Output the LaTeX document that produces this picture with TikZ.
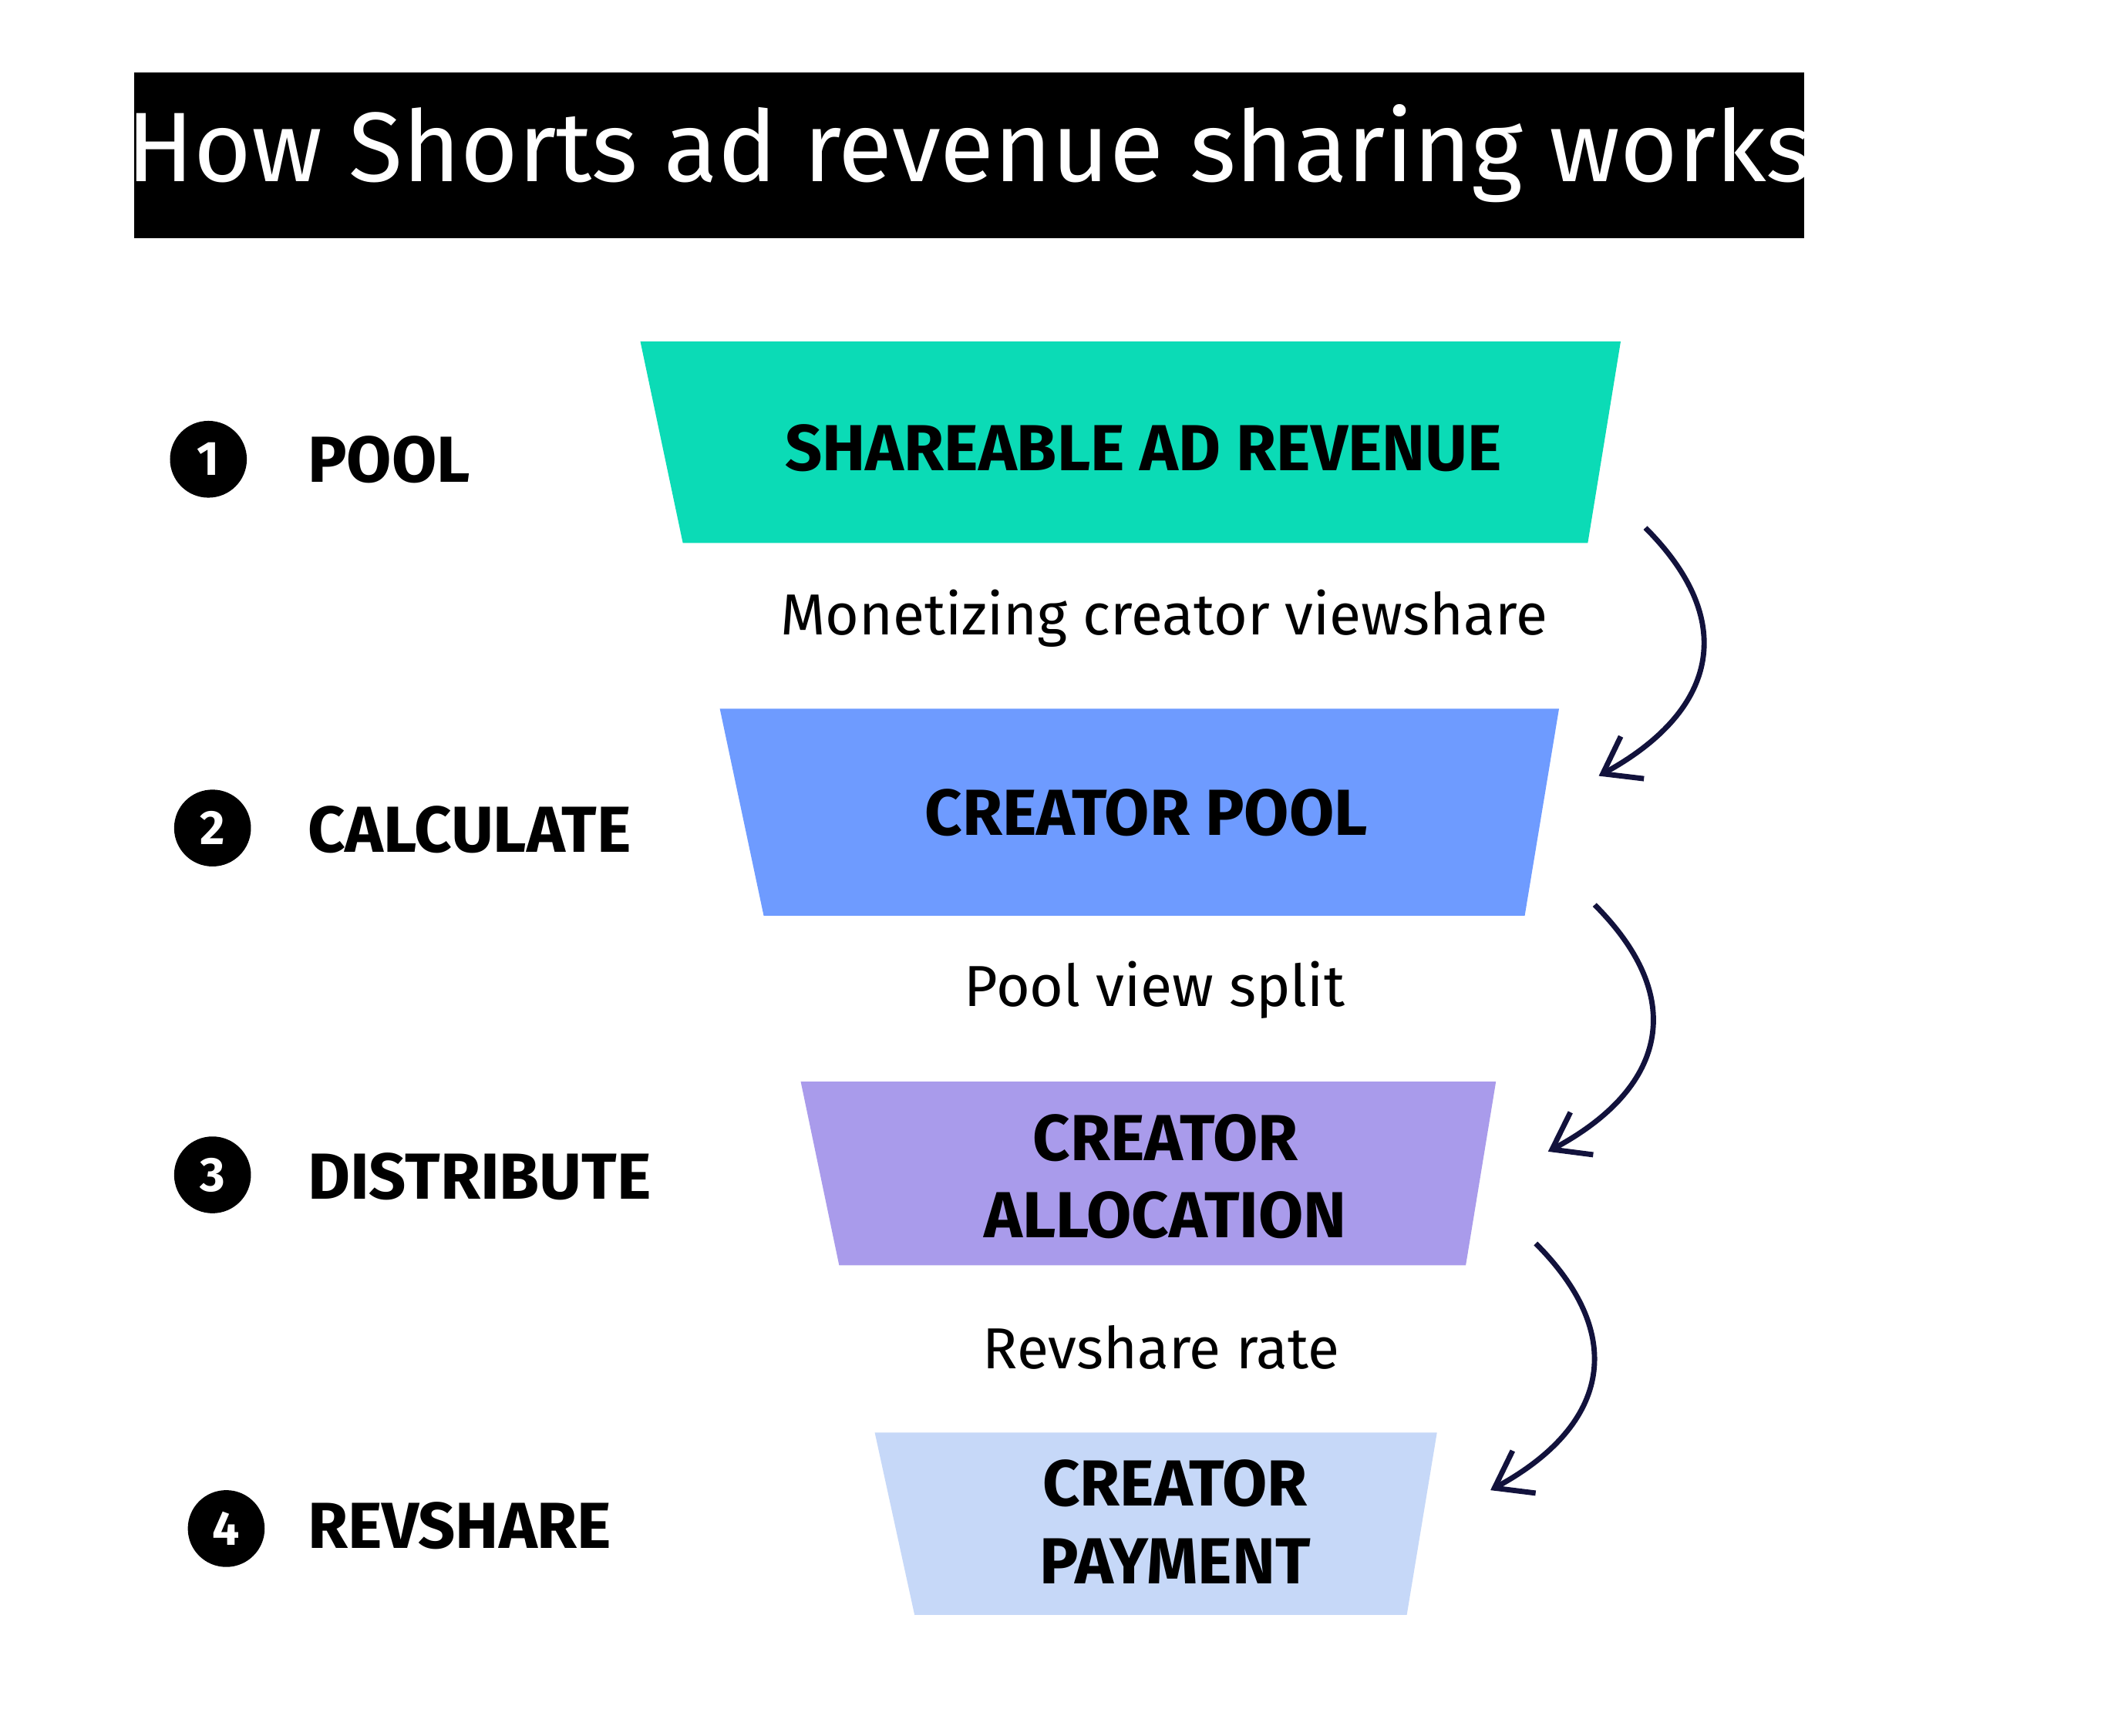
\documentclass[tikz,border=0pt]{standalone}
\usepackage{fontspec}
\setmainfont{Fira Sans}
\usetikzlibrary{arrows.meta}
\definecolor{c1}{HTML}{0BDBB6}
\definecolor{c2}{HTML}{6E9BFF}
\definecolor{c3}{HTML}{A99BEB}
\definecolor{c4}{HTML}{C6D8F8}
\definecolor{navy}{HTML}{12123C}
\begin{document}
\begin{tikzpicture}[x=0.01cm,y=-0.01cm,
  lbl/.style={font=\fontsize{13.5pt}{16pt}\selectfont\bfseries,align=center},
  steplbl/.style={font=\fontsize{13.5pt}{16pt}\selectfont\bfseries,anchor=west},
  num/.style={circle,fill=black,minimum size=0.56cm,inner sep=0pt,text=white,font=\fontsize{10pt}{12pt}\selectfont\bfseries},
  mid/.style={font=\fontsize{12pt}{14pt}\selectfont},
  flow/.style={navy,line width=1.1pt,-{Straight Barb[length=7pt,width=10pt]}}]
\useasboundingbox (0,0) rectangle (1552,1266);
\fill[white] (0,0) rectangle (1552,1266);
\fill[black] (98,53) rectangle (1316,174);
\node[text=white,font=\fontsize{20.5pt}{24pt}\selectfont] (title) at (707,112) {How Shorts ad revenue sharing works};
\fill[c1] (467,249) -- (1182,249) -- (1158,396) -- (498,396) -- cycle;
\fill[c2] (525,517) -- (1137,517) -- (1112,668) -- (557,668) -- cycle;
\fill[c3] (584,789) -- (1091,789) -- (1069,923) -- (612,923) -- cycle;
\fill[c4] (638,1045) -- (1048,1045) -- (1026,1178) -- (667,1178) -- cycle;
\node[lbl] (t1) at (834,327) {SHAREABLE AD REVENUE};
\node[lbl] (t2) at (836,593) {CREATOR POOL};
\node[lbl] (t3) at (850,858) {CREATOR\\ALLOCATION};
\node[lbl] (t4) at (857,1110) {CREATOR\\PAYMENT};
\node[num] (n1) at (152,335) {1};
\node[num] (n2) at (155,604) {2};
\node[num] (n3) at (155,857) {3};
\node[num] (n4) at (165,1115) {4};
\node[steplbl] (s1) at (212,335) {POOL};
\node[steplbl] (s2) at (212,605) {CALCULATE};
\node[steplbl] (s3) at (212,858) {DISTRIBUTE};
\node[steplbl] (s4) at (212,1113) {REVSHARE};
\node[mid] (m1) at (849,451) {Monetizing creator viewshare};
\node[mid] (m2) at (842,722) {Pool view split};
\node[mid] (m3) at (847,983) {Revshare rate};
\coordinate (a1s) at (1200,385); \coordinate (a1e) at (1166,566);
\coordinate (a2s) at (1163,660); \coordinate (a2e) at (1129,840);
\coordinate (a3s) at (1120,907); \coordinate (a3e) at (1087,1087);
\draw[flow] (a1s) .. controls (1270,455) and (1250,520) .. (a1e);
\draw[flow] (a2s) .. controls (1233,730) and (1213,795) .. (a2e);
\draw[flow] (a3s) .. controls (1190,977) and (1170,1042) .. (a3e);
\end{tikzpicture}
\end{document}
